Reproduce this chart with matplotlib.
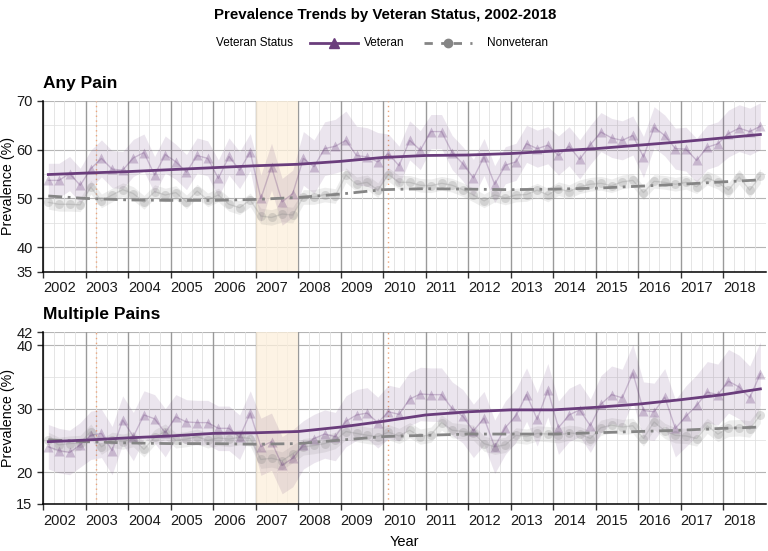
import numpy as np
import matplotlib
matplotlib.use('Agg')
import matplotlib.pyplot as plt
from matplotlib.lines import Line2D

plt.rcParams['font.family'] = ['Liberation Sans', 'DejaVu Sans']

# --- data (quarterly estimates) ---
YEARS = list(range(2002, 2019))
QUARTER_MID = [0.125, 0.375, 0.625, 0.875]

vet_any = [53.7, 53.7, 55.1, 52.7, 56.1, 58.2, 56.0, 55.8, 58.3, 59.4, 54.8, 59.0,
           57.5, 55.4, 58.8, 58.2, 54.1, 58.6, 55.8, 59.5, 50.0, 56.5, 49.3, 51.0,
           58.2, 56.5, 60.2, 60.7, 61.9, 58.8, 58.5, 57.5, 59.2, 56.7, 61.9, 59.9,
           63.7, 63.7, 59.4, 57.1, 54.2, 58.5, 52.9, 56.8, 57.5, 61.2, 60.2, 60.9,
           58.8, 60.7, 58.0, 61.0, 63.6, 62.4, 61.9, 62.9, 58.5, 64.6, 62.9, 60.2,
           60.1, 57.8, 60.5, 61.2, 63.3, 64.4, 63.7, 64.8]
non_any = [49.2, 48.8, 48.8, 48.7, 52.3, 49.5, 50.7, 51.8, 51.0, 49.2, 51.4, 50.7,
           51.2, 49.3, 51.5, 49.7, 50.7, 48.8, 48.1, 49.7, 46.4, 46.1, 46.8, 46.6,
           50.3, 50.3, 50.8, 50.5, 54.8, 52.9, 53.3, 51.7, 54.9, 53.3, 53.3, 52.7,
           52.6, 53.1, 52.7, 51.8, 50.7, 49.5, 50.7, 50.1, 50.7, 50.8, 51.7, 50.7,
           52.0, 51.4, 52.4, 52.9, 53.1, 52.6, 53.4, 53.7, 51.2, 53.5, 53.3, 52.9,
           53.3, 52.4, 54.2, 53.3, 51.7, 54.4, 51.7, 54.6]
vet_multi = [24.0, 23.4, 23.1, 24.3, 25.8, 26.1, 23.4, 28.2, 25.6, 29.0, 28.4, 26.2,
             28.7, 27.9, 27.8, 27.8, 26.9, 26.9, 25.5, 29.3, 24.0, 24.8, 21.1, 22.2,
             24.3, 25.3, 26.0, 25.6, 28.0, 29.0, 29.3, 27.8, 29.5, 29.1, 31.5, 32.3,
             32.2, 32.2, 30.0, 28.8, 26.5, 28.5, 24.0, 27.0, 28.9, 32.2, 28.3, 32.9,
             27.0, 29.0, 29.8, 27.3, 30.7, 32.2, 31.7, 35.6, 29.7, 29.5, 31.8, 26.9,
             28.8, 30.5, 32.6, 32.2, 34.3, 33.4, 31.7, 35.5]
non_multi = [25.1, 24.3, 24.5, 24.6, 26.4, 24.0, 25.1, 24.8, 25.2, 23.6, 25.5, 26.4,
             25.0, 25.2, 25.6, 25.0, 25.4, 25.2, 25.5, 25.3, 22.0, 22.2, 21.8, 22.9,
             24.0, 24.2, 24.5, 25.0, 26.4, 26.1, 25.8, 25.6, 26.3, 25.7, 26.6, 25.6,
             25.9, 27.8, 26.6, 26.4, 26.2, 24.5, 24.0, 24.3, 25.8, 25.6, 26.1, 26.0,
             25.8, 26.2, 26.0, 25.3, 27.0, 27.4, 27.1, 27.3, 25.3, 27.9, 26.5, 25.8,
             25.7, 25.3, 27.3, 26.0, 26.9, 27.0, 26.8, 29.0]

# 95% CI half widths, one value per year
vet_any_ci = [3.5, 3.8, 3.8, 3.6, 3.8, 4.8, 5.5, 6.0, 4.0, 3.5, 3.8, 3.8, 4.0, 4.0, 4.2, 4.5, 4.8]
non_any_ci = [1.4, 1.4, 1.4, 1.4, 1.4, 1.6, 1.5, 1.5, 1.4, 1.4, 1.4, 1.4, 1.4, 1.4, 1.4, 1.4, 1.5]
vet_multi_ci = [3.5, 3.8, 3.8, 3.5, 3.5, 4.5, 3.8, 4.0, 4.2, 4.2, 4.2, 4.2, 4.2, 4.5, 4.5, 4.8, 5.0]
non_multi_ci = [1.2, 1.2, 1.2, 1.2, 1.2, 1.4, 1.3, 1.3, 1.2, 1.2, 1.2, 1.2, 1.2, 1.2, 1.2, 1.2, 1.3]

# smoothed trend, read at year boundaries
SMOOTH_X = [2002.125] + list(range(2003, 2019)) + [2018.875]
vet_any_smooth = [54.9, 55.2, 55.5, 55.9, 56.3, 56.7, 57.0, 57.6, 58.4, 58.8, 58.9,
                  59.2, 59.7, 60.2, 60.9, 61.6, 62.4, 63.1]
non_any_smooth = [50.5, 50.0, 49.7, 49.6, 49.6, 49.8, 50.2, 50.9, 51.8, 52.0, 51.9,
                  51.8, 51.9, 52.1, 52.5, 52.9, 53.4, 53.8]
vet_multi_smooth = [24.8, 25.05, 25.4, 25.7, 26.1, 26.2, 26.4, 27.1, 28.0, 29.0, 29.5,
                    29.8, 29.8, 30.2, 30.7, 31.4, 32.2, 33.1]
non_multi_smooth = [25.1, 24.8, 24.6, 24.5, 24.5, 24.4, 24.5, 25.05, 25.6, 25.8, 26.0,
                    26.0, 26.0, 26.2, 26.4, 26.6, 26.9, 27.1]

RECESSION = (2007, 2008)
EVENTS = [2003.25, 2010.125]

# --- style ---
PURPLE = '#6a3d7c'
GRAY = '#858585'
ORANGE_FILL = '#fdf0dc'
ORANGE_LINE = '#eba47a'

t = np.array([y + q for y in YEARS for q in QUARTER_MID])


def draw_panel(ax, vet, non, vet_ci, non_ci, vet_s, non_s, ylim, yticks, yminor, title):
    vet = np.array(vet)
    non = np.array(non)
    vci = np.repeat(vet_ci, 4)
    nci = np.repeat(non_ci, 4)

    ax.set_xlim(2002, 2019)
    ax.set_ylim(*ylim)

    # grid
    for y in yminor:
        ax.axhline(y, color='#e3e3e3', lw=0.6, zorder=0)
    for y in yticks:
        ax.axhline(y, color='#b5b5b5', lw=0.8, zorder=0)
    for yr in YEARS:
        for q in (0.25, 0.5, 0.75):
            ax.axvline(yr + q, color='#e0e0e0', lw=0.6, zorder=0)
        ax.axvline(yr, color='#9a9a9a', lw=1.0, zorder=0)

    ax.axvspan(*RECESSION, color=ORANGE_FILL, alpha=0.75, lw=0, zorder=0.5)
    for ev in EVENTS:
        ax.axvline(ev, color=ORANGE_LINE, lw=1.0, ls=(0, (1, 2.5)), zorder=0.6)

    # ribbons
    ax.fill_between(t, non - nci, non + nci, color=GRAY, alpha=0.14, lw=0, zorder=1)
    ax.fill_between(t, vet - vci, vet + vci, color=PURPLE, alpha=0.13, lw=0, zorder=1)

    # quarterly points
    ax.plot(t, non, color=GRAY, alpha=0.25, lw=1, marker='o', ms=6.5,
            mec='none', zorder=2)
    ax.plot(t, vet, color=PURPLE, alpha=0.28, lw=1, marker='^', ms=7,
            mec='none', zorder=2)

    # smooth trends
    ax.plot(SMOOTH_X, non_s, color=GRAY, lw=2, dashes=(5, 2, 1, 2), zorder=3)
    ax.plot(SMOOTH_X, vet_s, color=PURPLE, lw=2, zorder=3)

    ax.set_xticks(YEARS)
    ax.set_xticklabels([str(y) for y in YEARS], ha='left')
    ax.set_yticks(yticks)
    ax.tick_params(axis='both', labelsize=10.5, length=4, width=1, color='#333333',
                   labelcolor='#1a1a1a')
    ax.tick_params(axis='x', pad=3)
    for s in ('top', 'right'):
        ax.spines[s].set_visible(False)
    for s in ('left', 'bottom'):
        ax.spines[s].set_color('black')
        ax.spines[s].set_linewidth(1.1)
    ax.set_ylabel('Prevalence (%)', fontsize=10.3)
    ax.yaxis.set_label_coords(-0.0385, 0.5)
    ax.text(0.0, 1.06, title, transform=ax.transAxes, fontsize=12.5,
            fontweight='bold', ha='left', va='bottom')


fig = plt.figure(figsize=(7.68, 5.51), dpi=100)
ax1 = fig.add_axes([0.056, 0.507, 0.941, 0.310])
ax2 = fig.add_axes([0.056, 0.0853, 0.941, 0.3116])

draw_panel(ax1, vet_any, non_any, vet_any_ci, non_any_ci, vet_any_smooth, non_any_smooth,
           (35, 70), [35, 40, 50, 60, 70], [45, 55, 65], 'Any Pain')
draw_panel(ax2, vet_multi, non_multi, vet_multi_ci, non_multi_ci, vet_multi_smooth,
           non_multi_smooth, (15, 42), [15, 20, 30, 40, 42], [25, 35], 'Multiple Pains')
ax2.set_xlabel('Year', fontsize=10.5)
ax2.xaxis.set_label_coords(0.5, -0.18)

fig.text(0.501, 1 - 15 / 551, 'Prevalence Trends by Veteran Status, 2002-2018',
         fontsize=10.8, fontweight='bold', ha='center', va='center')

# legend
ly = 1 - 43 / 551
fig.text(216 / 768, ly, 'Veteran Status', fontsize=8.5, ha='left', va='center')
fig.add_artist(Line2D([310 / 768, 358 / 768], [ly, ly], color=PURPLE, lw=2))
fig.add_artist(Line2D([334 / 768], [ly], color=PURPLE, marker='^', ms=7, ls='none'))
fig.text(364 / 768, ly, 'Veteran', fontsize=8.5, ha='left', va='center')
fig.add_artist(Line2D([424 / 768, 472 / 768], [ly, ly], color=GRAY, lw=2,
                      dashes=(3, 3, 1.5, 3)))
fig.add_artist(Line2D([448 / 768], [ly], color=GRAY, marker='o', ms=6, ls='none'))
fig.text(487 / 768, ly, 'Nonveteran', fontsize=8.5, ha='left', va='center')

fig.savefig('out.png', dpi=100, facecolor='white')
